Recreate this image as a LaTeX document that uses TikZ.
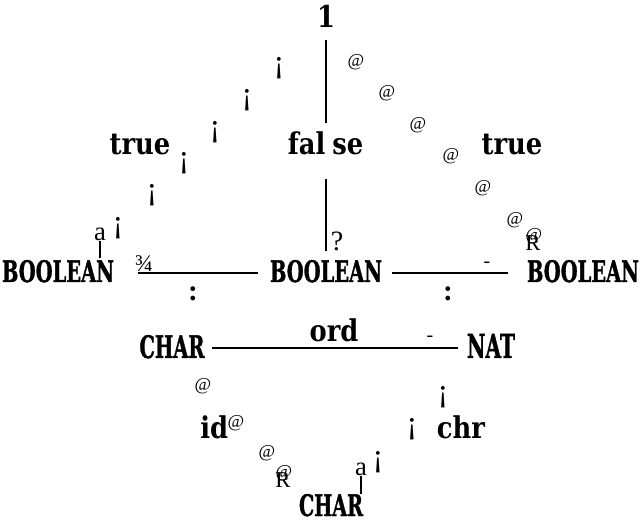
\documentclass[tikz,border=0pt]{standalone}
\usepackage{fontspec}
\usepackage{graphicx}
\newfontfamily\lblfont{DejaVu Serif Bold}
\newfontfamily\glyfont{Liberation Serif}
\newfontfamily\capfont{DejaVu Serif Bold}[FakeBold=1.5]
\newdimen\pxu \pxu=0.75pt
% squeezed bold type name of fixed width and cap height
\newcommand{\tyname}[3]{\resizebox{#1\pxu}{#2\pxu}{\capfont #3}}
% slightly narrowed label text
\newcommand{\lbltext}[1]{\scalebox{0.86}[1]{#1}}

\begin{document}
\begin{tikzpicture}[x=0.75pt,y=-0.75pt,
  lbl/.style={inner sep=0pt, anchor=base, font=\lblfont\fontsize{22.5}{22.5}\selectfont},
  tyn/.style={inner sep=0pt, anchor=base},
  glyph/.style={inner sep=0pt, anchor=center},
  excl/.style={glyph, font=\glyfont\fontsize{24}{24}\selectfont},
  atsg/.style={glyph, font=\glyfont\fontsize{13.5}{13.5}\selectfont},
  tipa/.style={glyph, font=\glyfont\fontsize{20}{20}\selectfont},
  tipr/.style={glyph, font=\glyfont\fontsize{17}{17}\selectfont},
  hyph/.style={glyph, font=\glyfont\fontsize{15}{15}\selectfont},
  colon/.style={glyph, font=\glyfont\bfseries\fontsize{22}{22}\selectfont},
  rule/.style={line width=2pt},
  tick/.style={line width=1pt}]
\useasboundingbox (0,0) rectangle (641,523);

% labels
\node[lbl] (one) at (326,28) {\lbltext{1}};
\node[lbl] (truel) at (140,155) {\lbltext{true}};
\node[lbl] (falsen) at (325.5,155) {\lbltext{fal\kern6pt se}};
\node[lbl] (truer) at (512,155) {\lbltext{true}};
\node[lbl] (ord) at (334,341) {\lbltext{ord}};
\node[lbl, anchor=base west] (idn) at (200,438) {\lbltext{id}};
\node[lbl] (chr) at (461,438) {\lbltext{chr}};

% type names
\node[tyn] (lbool) at (58,282) {\tyname{112}{22}{BOOLEAN}};
\node[tyn] (cbool) at (326,282) {\tyname{112}{22}{BOOLEAN}};
\node[tyn] (rbool) at (583,282) {\tyname{112}{22}{BOOLEAN}};
\node[tyn] (lchar) at (172,358) {\tyname{65}{23}{CHAR}};
\node[tyn] (nat) at (491,358) {\tyname{48}{24}{NAT}};
\node[tyn] (bchar) at (331,516) {\tyname{64}{22}{CHAR}};

% vertical rule through false
\draw[rule, shorten <=9pt, shorten >=6.75pt]
  (one.south) -- (one.south |- falsen.north);
\draw[rule, shorten <=17.25pt, shorten >=6.75pt]
  (one.south |- falsen.south) -- (one.south |- cbool.north);
\node[glyph, font=\glyfont\fontsize{21}{21}\selectfont] (qtip) at (337,241) {?};

% horizontal rules
\draw[rule, shorten <=9pt, shorten >=18pt]
  ([yshift=6.75pt]cbool.base west) -- ([yshift=6.75pt]lbool.base east);
\node[glyph, font=\glyfont\fontsize{18}{18}\selectfont] (ltip) at (144,264) {¾};
\node[colon] (lcol) at (193,294) {:};

\draw[rule, shorten <=7.5pt, shorten >=14.25pt]
  ([yshift=6.75pt]cbool.base east) -- ([yshift=6.75pt]rbool.base west);
\node[hyph] (rtip) at (487,265) {-};
\node[colon] (rcol) at (448,294) {:};

\draw[rule, shorten <=5.6pt, shorten >=6.75pt]
  ([yshift=7.5pt]lchar.base east) -- ([yshift=7.5pt]nat.base west);
\node[hyph] (ntip) at (430,339) {-};

% upper left diagonal
\foreach \px/\py [count=\i] in {279/68, 247/100, 215/132, 184/163, 152/195, 118/228}
  \node[excl] (ul\i) at (\px,\py) {¡};
\node[tipa] (ultip) at (100,234) {a};
\draw[tick] (ultip.south) -- ++(0,17);

% upper right diagonal
\foreach \px/\py [count=\i] in {356/62, 387/93, 418/125, 451/156, 483/188, 515/220}
  \node[atsg] (ur\i) at (\px,\py) {@};
\node[tipr] (urtipr) at (533,243) {R};
\node[atsg] (urtipa) at (534,236) {@};

% lower left diagonal
\node[atsg] (ll1) at (203,386) {@};
\node[atsg] (ll2) at (236,423) {@};
\node[atsg] (ll3) at (267,453) {@};
\node[tipr] (lltipr) at (283,480) {R};
\node[atsg] (lltipa) at (284,473) {@};

% lower right diagonal
\foreach \px/\py [count=\i] in {443/397, 412/429, 378/462}
  \node[excl] (lr\i) at (\px,\py) {¡};
\node[tipa] (lrtip) at (361,469) {a};
\draw[tick] (lrtip.south) -- ++(0,18);
\end{tikzpicture}
\end{document}
